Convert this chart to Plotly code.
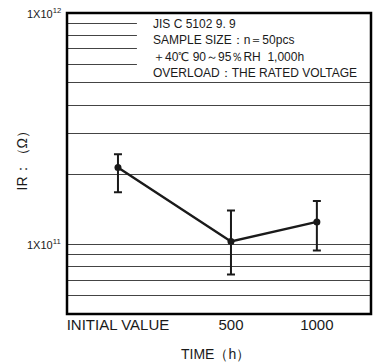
import math
import plotly.graph_objects as go

# ---- data ----
categories = ["INITIAL VALUE", "500", "1000"]
x_slot = [0, 1, 1.76]
ir_mean = [2.15e11, 1.03e11, 1.25e11]
ir_upper = [2.45e11, 1.40e11, 1.54e11]
ir_lower = [1.68e11, 7.4e10, 9.4e10]
grid_vals = [6e10, 7e10, 8e10, 9e10, 1e11, 2e11, 3e11, 4e11, 5e11, 6e11, 7e11, 8e11, 9e11, 1e12]
ytick_vals = [1e11, 1e12]
ytick_text = ["1X10<sup>11</sup>", "1X10<sup>12</sup>"]
notes = ["JIS C 5102 9. 9",
         "SAMPLE SIZE：n＝50pcs",
         "＋40℃ 90～95％RH  1,000h",
         "OVERLOAD：THE RATED VOLTAGE"]

err_plus = [u - m for u, m in zip(ir_upper, ir_mean)]
err_minus = [m - l for m, l in zip(ir_mean, ir_lower)]

FONT = "Liberation Sans, Arial, sans-serif"
INK = "#1a1a1a"

fig = go.Figure()
fig.add_trace(go.Scatter(
    x=x_slot, y=ir_mean, mode="lines+markers",
    line=dict(color=INK, width=2.4),
    marker=dict(color=INK, size=7),
    error_y=dict(type="data", symmetric=False, array=err_plus, arrayminus=err_minus,
                 color=INK, thickness=2, width=4),
    showlegend=False, hoverinfo="skip",
))

# white box behind the notes (hides the grid there), then the frame on top
fig.add_shape(type="rect", xref="paper", yref="paper", x0=0.230, x1=1.0, y0=0.775, y1=1.0,
              fillcolor="white", line=dict(width=0), layer="above")
fig.add_shape(type="rect", xref="paper", yref="paper", x0=0, x1=1, y0=0, y1=1,
              fillcolor="rgba(0,0,0,0)", line=dict(color="black", width=2.5), layer="above")

note_y = [0.9635, 0.910, 0.854, 0.801]
for t, yy in zip(notes, note_y):
    fig.add_annotation(xref="paper", yref="paper", x=0.276, y=yy, text=t, showarrow=False,
                       xanchor="left", yanchor="middle", font=dict(family=FONT, size=12, color=INK))

# y tick labels
for v, t in zip(ytick_vals, ytick_text):
    fig.add_annotation(xref="paper", yref="y", x=-0.012, y=math.log10(v), text=t, showarrow=False,
                       xanchor="right", yanchor="middle", font=dict(family=FONT, size=11, color=INK))

# axis titles
fig.add_annotation(xref="paper", yref="paper", x=0.487, y=-0.133, text="TIME（h）", showarrow=False,
                   xanchor="center", yanchor="middle", font=dict(family=FONT, size=14, color=INK))
fig.add_annotation(xref="paper", yref="paper", x=-0.148, y=0.52, text="IR：（Ω）", showarrow=False,
                   textangle=-90, xanchor="center", yanchor="middle",
                   font=dict(family=FONT, size=14, color=INK))

fig.update_layout(
    width=375, height=362,
    margin=dict(l=67, r=4, t=13, b=48),
    paper_bgcolor="white", plot_bgcolor="white",
    font=dict(family=FONT, color=INK),
    hovermode=False,
    xaxis=dict(
        range=[-0.451, 2.239], tickmode="array", tickvals=x_slot, ticktext=categories,
        showgrid=False, zeroline=False, showline=False, ticks="", automargin=False,
        tickfont=dict(size=15, color=INK),
    ),
    yaxis=dict(
        type="log", range=[10.699, 12.0], tickmode="array", tickvals=grid_vals,
        showticklabels=False, automargin=False,
        showgrid=True, gridcolor="#444444", gridwidth=1, zeroline=False,
        showline=False, ticks="",
    ),
)

fig.write_html("out.html", config={"displayModeBar": False},
               post_script="document.body.style.margin='0';document.body.style.overflow='hidden';")
